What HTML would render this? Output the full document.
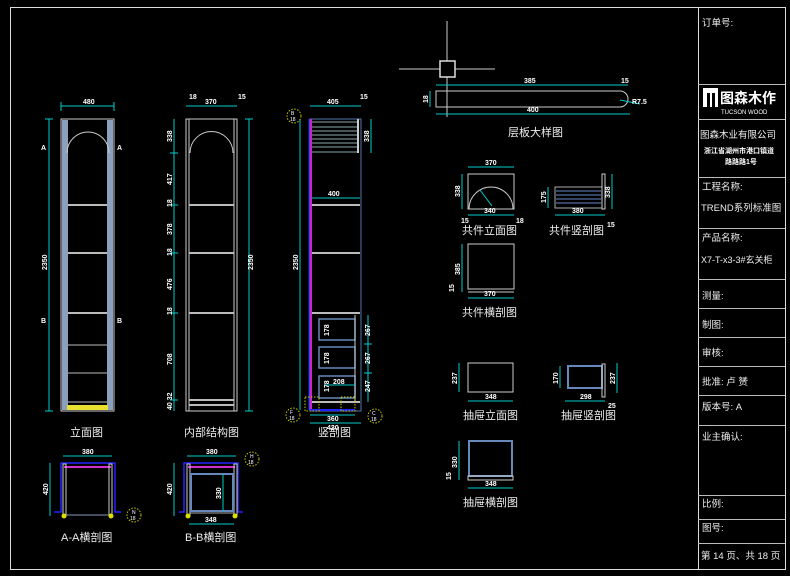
<!DOCTYPE html>
<html><head><meta charset="utf-8"><style>
html,body{margin:0;padding:0;background:#000;}
svg{display:block}
text{font-family:"Liberation Sans","Noto Sans CJK SC",sans-serif;fill:#fff}
.t{font-size:11px;fill:#eee}
.d{font-size:7px;font-weight:bold}
.tb{font-size:9.5px;fill:#eee}
</style></head><body>
<svg width="790" height="576" viewBox="0 0 790 576" xmlns="http://www.w3.org/2000/svg">
<rect width="790" height="576" fill="#000"/>
<rect x="10.5" y="7.5" width="775" height="562" fill="none" stroke="#ddd" stroke-width="1"/>
<line x1="698.5" y1="7" x2="698.5" y2="570" stroke="#ddd"/>
<g stroke="#bbb" stroke-width="1">
<line x1="698" y1="84.5" x2="785" y2="84.5"/>
<line x1="698" y1="119.5" x2="785" y2="119.5"/>
<line x1="698" y1="177.5" x2="785" y2="177.5"/>
<line x1="698" y1="228.5" x2="785" y2="228.5"/>
<line x1="698" y1="279.5" x2="785" y2="279.5"/>
<line x1="698" y1="308.5" x2="785" y2="308.5"/>
<line x1="698" y1="337.5" x2="785" y2="337.5"/>
<line x1="698" y1="366.5" x2="785" y2="366.5"/>
<line x1="698" y1="395.5" x2="785" y2="395.5"/>
<line x1="698" y1="425.5" x2="785" y2="425.5"/>
<line x1="698" y1="495.5" x2="785" y2="495.5"/>
<line x1="698" y1="519.5" x2="785" y2="519.5"/>
<line x1="698" y1="543.5" x2="785" y2="543.5"/>
</g>
<text class="tb" x="702" y="26">订单号:</text>
<rect x="703" y="88" width="15" height="19" fill="#fff"/>
<rect x="707" y="93" width="3" height="14" fill="#000"/><rect x="712" y="93" width="3" height="14" fill="#000"/>
<text x="720" y="103" style="font-size:14px;font-weight:bold">图森木作</text>
<text x="721" y="114" style="font-size:6px">TUCSON WOOD</text>
<text class="tb" x="700" y="138">图森木业有限公司</text>
<text x="704" y="153" style="font-size:7px;font-weight:bold">浙江省湖州市港口镇道</text>
<text x="725" y="164" style="font-size:7px;font-weight:bold">路路路1号</text>
<text class="tb" x="702" y="190">工程名称:</text>
<text class="tb" x="701" y="211">TREND系列标准图</text>
<text class="tb" x="702" y="241">产品名称:</text>
<text class="tb" x="701" y="263" style="font-size:9px">X7-T-x3-3#玄关柜</text>
<text class="tb" x="702" y="299">测量:</text>
<text class="tb" x="702" y="328">制图:</text>
<text class="tb" x="702" y="356">审核:</text>
<text class="tb" x="702" y="385">批准: 卢  赟</text>
<text class="tb" x="702" y="410">版本号:  A</text>
<text class="tb" x="702" y="440">业主确认:</text>
<text class="tb" x="702" y="507">比例:</text>
<text class="tb" x="702" y="531">图号:</text>
<text class="tb" x="701" y="559">第 14 页、共 18 页</text>

<g>
<rect x="61" y="119" width="53" height="292" fill="none" stroke="#ccc"/>
<rect x="62" y="120" width="6" height="290" fill="#8aa0bd"/>
<rect x="107" y="120" width="6" height="290" fill="#8aa0bd"/>
<path d="M67 153 A21 21 0 0 1 109 153" fill="none" stroke="#ccc"/>
<g stroke="#bbb" stroke-width="2"><line x1="68" y1="205" x2="107" y2="205"/><line x1="68" y1="253" x2="107" y2="253"/><line x1="68" y1="313" x2="107" y2="313"/></g>
<g stroke="#bbb" stroke-width="1"><line x1="68" y1="345" x2="107" y2="345"/><line x1="68" y1="373" x2="107" y2="373"/><line x1="68" y1="402" x2="107" y2="402"/></g>
<rect x="67" y="405" width="41" height="5" fill="#e8e030"/>
<g stroke="#0cc" fill="none"><line x1="61" y1="106" x2="114" y2="106"/><line x1="61" y1="102" x2="61" y2="111"/><line x1="114" y1="102" x2="114" y2="111"/>
<line x1="49" y1="119" x2="49" y2="411"/><line x1="45" y1="119" x2="53" y2="119"/><line x1="45" y1="411" x2="53" y2="411"/></g>
<text class="d" x="83" y="104">480</text>
<text class="d" transform="translate(47 270) rotate(-90)">2350</text>
<text class="d" x="41" y="150">A</text><text class="d" x="117" y="150">A</text>
<text class="d" x="41" y="323">B</text><text class="d" x="117" y="323">B</text>
<text class="t" x="70" y="436">立面图</text>
</g>

<g>
<rect x="186" y="119" width="51" height="292" fill="none" stroke="#ccc"/>
<line x1="189" y1="119" x2="189" y2="411" stroke="#ccc"/><line x1="234" y1="119" x2="234" y2="411" stroke="#ccc"/>
<path d="M190 153 A21 21 0 0 1 233 153" fill="none" stroke="#ccc"/>
<g stroke="#bbb" stroke-width="2"><line x1="189" y1="205" x2="234" y2="205"/><line x1="189" y1="253" x2="234" y2="253"/><line x1="189" y1="313" x2="234" y2="313"/><line x1="189" y1="400" x2="234" y2="400"/><line x1="189" y1="405" x2="234" y2="405"/></g>
<g stroke="#0cc" fill="none"><line x1="186" y1="106" x2="237" y2="106"/><line x1="174" y1="119" x2="174" y2="411"/><line x1="249" y1="119" x2="249" y2="411"/><line x1="245" y1="119" x2="253" y2="119"/><line x1="245" y1="411" x2="253" y2="411"/>
<line x1="170" y1="153" x2="178" y2="153"/><line x1="170" y1="205" x2="178" y2="205"/><line x1="170" y1="253" x2="178" y2="253"/><line x1="170" y1="313" x2="178" y2="313"/><line x1="170" y1="400" x2="178" y2="400"/></g>
<text class="d" x="205" y="104">370</text><text class="d" x="189" y="99">18</text><text class="d" x="238" y="99">15</text>
<text class="d" transform="translate(172 142) rotate(-90)">338</text>
<text class="d" transform="translate(172 185) rotate(-90)">417</text>
<text class="d" transform="translate(172 235) rotate(-90)">378</text>
<text class="d" transform="translate(172 290) rotate(-90)">476</text>
<text class="d" transform="translate(172 365) rotate(-90)">708</text>
<text class="d" transform="translate(172 410) rotate(-90)">40 32</text>
<text class="d" transform="translate(172 207) rotate(-90)">18</text>
<text class="d" transform="translate(172 256) rotate(-90)">18</text>
<text class="d" transform="translate(172 315) rotate(-90)">18</text>
<text class="d" transform="translate(253 270) rotate(-90)">2350</text>
<text class="t" x="184" y="436">内部结构图</text>
</g>

<g>
<rect x="310" y="119" width="51" height="292" fill="none" stroke="#5577aa"/>
<line x1="311" y1="119" x2="311" y2="410" stroke="#d020d0" stroke-width="2"/>
<line x1="309" y1="119" x2="309" y2="410" stroke="#22f"/>
<line x1="310" y1="410" x2="355" y2="410" stroke="#22f" stroke-width="2"/>
<g stroke="#8aa" stroke-width="1"><line x1="312" y1="122" x2="358" y2="122"/><line x1="312" y1="127" x2="358" y2="127"/><line x1="312" y1="131" x2="358" y2="131"/><line x1="312" y1="135" x2="358" y2="135"/><line x1="312" y1="139" x2="358" y2="139"/><line x1="312" y1="143" x2="358" y2="143"/><line x1="312" y1="147" x2="358" y2="147"/><line x1="312" y1="152" x2="358" y2="152"/></g>
<line x1="358" y1="119" x2="358" y2="153" stroke="#ccc" stroke-width="2"/>
<g stroke="#bbb" stroke-width="2"><line x1="312" y1="205" x2="360" y2="205"/><line x1="312" y1="253" x2="360" y2="253"/><line x1="312" y1="313" x2="360" y2="313"/><line x1="312" y1="402" x2="360" y2="402"/></g>
<g fill="none" stroke="#6688bb" stroke-width="1.5"><rect x="319" y="319" width="36" height="21"/><rect x="319" y="347" width="36" height="21"/><rect x="319" y="376" width="36" height="22"/></g>
<line x1="355" y1="315" x2="355" y2="402" stroke="#ccc"/>
<g stroke="#0cc" fill="none"><line x1="310" y1="106" x2="361" y2="106"/><line x1="300" y1="119" x2="300" y2="410"/><line x1="371" y1="119" x2="371" y2="153"/><line x1="312" y1="198" x2="360" y2="198"/><line x1="368" y1="315" x2="368" y2="402"/><line x1="364" y1="344" x2="372" y2="344"/><line x1="364" y1="373" x2="372" y2="373"/><line x1="310" y1="415" x2="355" y2="415"/><line x1="310" y1="423" x2="361" y2="423"/><line x1="325" y1="385" x2="355" y2="385"/></g>
<text class="d" x="327" y="104">405</text><text class="d" x="360" y="99">15</text>
<text class="d" transform="translate(298 270) rotate(-90)">2350</text>
<text class="d" transform="translate(369 142) rotate(-90)">338</text>
<text class="d" x="328" y="196">400</text>
<text class="d" transform="translate(370 336) rotate(-90)">267</text>
<text class="d" transform="translate(370 364) rotate(-90)">267</text>
<text class="d" transform="translate(370 392) rotate(-90)">247</text>
<text class="d" transform="translate(329 336) rotate(-90)">178</text>
<text class="d" transform="translate(329 364) rotate(-90)">178</text>
<text class="d" transform="translate(329 392) rotate(-90)">178</text>
<text class="d" x="333" y="384">208</text>
<text class="d" x="327" y="421">360</text><text class="d" x="327" y="430">420</text>
<g fill="none" stroke="#cc0" stroke-dasharray="1.5 1.5"><circle cx="294" cy="116" r="7"/><circle cx="293" cy="415" r="7"/><circle cx="375" cy="416" r="7"/><rect x="305" y="397" width="14" height="14"/><rect x="341" y="397" width="14" height="14"/></g>
<text x="291" y="115" style="font-size:5px">B</text><text x="290" y="121" style="font-size:5px">18</text>
<text x="290" y="414" style="font-size:5px">F</text><text x="289" y="420" style="font-size:5px">18</text>
<text x="372" y="415" style="font-size:5px">C</text><text x="371" y="421" style="font-size:5px">18</text>
<text class="t" x="318" y="436">竖剖图</text>
</g>

<g>
<line x1="399" y1="69" x2="495" y2="69" stroke="#ccc"/>
<line x1="447" y1="21" x2="447" y2="117" stroke="#ccc"/>
<rect x="440" y="61" width="15" height="16" fill="#000" stroke="#ddd" stroke-width="1.5"/>
<path d="M436 91 H620 A8 8 0 0 1 620 107 H436 Z" fill="none" stroke="#ccc"/>
<g stroke="#0cc" fill="none"><line x1="436" y1="85" x2="628" y2="85"/><line x1="436" y1="114" x2="630" y2="114"/><line x1="430" y1="91" x2="430" y2="107"/><line x1="620" y1="100" x2="640" y2="104"/></g>
<text class="d" x="524" y="83">385</text><text class="d" x="621" y="83">15</text>
<text class="d" x="527" y="112">400</text>
<text class="d" transform="translate(428 103) rotate(-90)">18</text>
<text class="d" x="632" y="104">R7.5</text>
<text class="t" x="508" y="136">层板大样图</text>
</g>

<g>
<rect x="468" y="174" width="46" height="35" fill="none" stroke="#ccc"/>
<path d="M469 209 A22 22 0 0 1 513 209" fill="none" stroke="#ccc"/>
<g stroke="#0cc" fill="none"><line x1="468" y1="167" x2="514" y2="167"/><line x1="462" y1="174" x2="462" y2="209"/><line x1="468" y1="215" x2="514" y2="215"/><line x1="480" y1="190" x2="492" y2="206"/></g>
<text class="d" x="485" y="165">370</text><text class="d" transform="translate(460 197) rotate(-90)">338</text>
<text class="d" x="484" y="213">340</text><text class="d" x="461" y="223">15</text><text class="d" x="516" y="223">18</text>
<text class="t" x="462" y="234">共件立面图</text>
</g>
<g>
<rect x="555" y="187" width="47" height="21" fill="none" stroke="#aaa"/>
<g stroke="#6688cc"><line x1="556" y1="191" x2="601" y2="191"/><line x1="556" y1="195" x2="601" y2="195"/><line x1="556" y1="199" x2="601" y2="199"/><line x1="556" y1="203" x2="601" y2="203"/></g>
<rect x="602" y="174" width="3" height="35" fill="none" stroke="#ccc"/>
<g stroke="#0cc" fill="none"><line x1="548" y1="187" x2="548" y2="208"/><line x1="612" y1="174" x2="612" y2="209"/><line x1="555" y1="215" x2="605" y2="215"/></g>
<text class="d" transform="translate(546 203) rotate(-90)">175</text><text class="d" transform="translate(610 198) rotate(-90)">338</text>
<text class="d" x="572" y="213">380</text><text class="d" x="607" y="227">15</text>
<text class="t" x="549" y="234">共件竖剖图</text>
</g>
<g>
<rect x="468" y="244" width="46" height="45" fill="none" stroke="#ccc"/>
<line x1="468" y1="292" x2="514" y2="292" stroke="#ccc"/>
<g stroke="#0cc" fill="none"><line x1="462" y1="244" x2="462" y2="292"/><line x1="468" y1="298" x2="514" y2="298"/></g>
<text class="d" transform="translate(460 275) rotate(-90)">385</text><text class="d" transform="translate(454 292) rotate(-90)">15</text>
<text class="d" x="484" y="296">370</text>
<text class="t" x="462" y="316">共件横剖图</text>
</g>

<g>
<rect x="468" y="363" width="45" height="29" fill="none" stroke="#ccc"/>
<g stroke="#0cc" fill="none"><line x1="459" y1="363" x2="459" y2="392"/><line x1="468" y1="401" x2="513" y2="401"/></g>
<text class="d" transform="translate(457 384) rotate(-90)">237</text><text class="d" x="485" y="399">348</text>
<text class="t" x="463" y="419">抽屉立面图</text>
</g>
<g>
<rect x="568" y="366" width="34" height="22" fill="none" stroke="#6688bb" stroke-width="2"/>
<rect x="602" y="364" width="3" height="33" fill="none" stroke="#ccc"/>
<g stroke="#0cc" fill="none"><line x1="560" y1="366" x2="560" y2="388"/><line x1="617" y1="363" x2="617" y2="393"/><line x1="565" y1="401" x2="605" y2="401"/></g>
<text class="d" transform="translate(558 384) rotate(-90)">170</text><text class="d" transform="translate(615 384) rotate(-90)">237</text>
<text class="d" x="580" y="399">298</text><text class="d" x="608" y="408">25</text>
<text class="t" x="561" y="419">抽屉竖剖图</text>
</g>
<g>
<rect x="469" y="441" width="43" height="35" fill="none" stroke="#6688bb" stroke-width="2"/>
<rect x="468" y="476" width="45" height="4" fill="none" stroke="#ccc"/>
<g stroke="#0cc" fill="none"><line x1="459" y1="441" x2="459" y2="480"/><line x1="468" y1="488" x2="513" y2="488"/></g>
<text class="d" transform="translate(457 468) rotate(-90)">330</text><text class="d" transform="translate(451 480) rotate(-90)">15</text>
<text class="d" x="485" y="486">348</text>
<text class="t" x="463" y="506">抽屉横剖图</text>
</g>

<g>
<path d="M54 512 H61 V463 H115 V512 H121" fill="none" stroke="#22f" stroke-width="1.5"/>
<line x1="64" y1="467" x2="111" y2="467" stroke="#d030d0" stroke-width="2"/>
<rect x="63" y="464" width="3" height="52" fill="none" stroke="#ccc"/><rect x="109" y="464" width="3" height="52" fill="none" stroke="#ccc"/>
<line x1="66" y1="515" x2="109" y2="515" stroke="#8899bb"/>
<circle cx="64" cy="516" r="2.5" fill="#dd0"/><circle cx="111" cy="516" r="2.5" fill="#dd0"/>
<g stroke="#0cc" fill="none"><line x1="63" y1="456" x2="112" y2="456"/><line x1="50" y1="463" x2="50" y2="516"/></g>
<circle cx="134" cy="515" r="7" fill="none" stroke="#cc0" stroke-dasharray="1.5 1.5"/>
<text x="132" y="514" style="font-size:5px">N</text><text x="130" y="520" style="font-size:5px">18</text>
<text class="d" x="82" y="454">380</text><text class="d" transform="translate(48 495) rotate(-90)">420</text>
<text class="t" x="61" y="541">A-A横剖图</text>
</g>
<g>
<path d="M179 512 H184 V463 H238 V512 H243" fill="none" stroke="#22f" stroke-width="1.5"/>
<line x1="188" y1="467" x2="235" y2="467" stroke="#d030d0" stroke-width="2"/>
<rect x="187" y="464" width="3" height="52" fill="none" stroke="#ccc"/><rect x="234" y="464" width="3" height="52" fill="none" stroke="#ccc"/>
<rect x="191" y="474" width="42" height="37" fill="none" stroke="#6688bb" stroke-width="2"/>
<line x1="190" y1="513" x2="234" y2="513" stroke="#aaa"/>
<circle cx="188" cy="516" r="2.5" fill="#dd0"/><circle cx="235" cy="516" r="2.5" fill="#dd0"/>
<g stroke="#0cc" fill="none"><line x1="187" y1="456" x2="236" y2="456"/><line x1="174" y1="463" x2="174" y2="516"/><line x1="189" y1="524" x2="234" y2="524"/><line x1="223" y1="474" x2="223" y2="511"/></g>
<circle cx="252" cy="459" r="7" fill="none" stroke="#cc0" stroke-dasharray="1.5 1.5"/>
<text x="250" y="458" style="font-size:5px">H</text><text x="248" y="464" style="font-size:5px">18</text>
<text class="d" x="206" y="454">380</text><text class="d" transform="translate(172 495) rotate(-90)">420</text>
<text class="d" x="205" y="522">348</text><text class="d" transform="translate(221 499) rotate(-90)">330</text>
<text class="t" x="185" y="541">B-B横剖图</text>
</g>
</svg>
</body></html>
